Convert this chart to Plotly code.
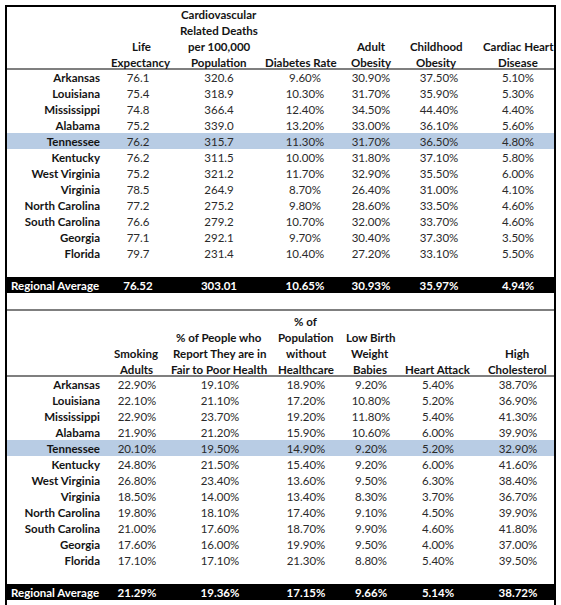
import plotly.graph_objects as go

# ---------------- data ----------------
states = ["Arkansas", "Louisiana", "Mississippi", "Alabama", "Tennessee", "Kentucky",
          "West Virginia", "Virginia", "North Carolina", "South Carolina", "Georgia", "Florida"]
highlight_state = "Tennessee"
avg_label = "Regional Average"

top_headers = ["Life<br>Expectancy",
               "Cardiovascular<br>Related Deaths<br>per 100,000<br>Population",
               "Diabetes Rate", "Adult<br>Obesity", "Childhood<br>Obesity",
               "Cardiac Heart<br>Disease"]
life_expectancy = [76.1, 75.4, 74.8, 75.2, 76.2, 76.2, 75.2, 78.5, 77.2, 76.6, 77.1, 79.7]
cardio_deaths = [320.6, 318.9, 366.4, 339.0, 315.7, 311.5, 321.2, 264.9, 275.2, 279.2, 292.1, 231.4]
diabetes_rate = [9.60, 10.30, 12.40, 13.20, 11.30, 10.00, 11.70, 8.70, 9.80, 10.70, 9.70, 10.40]
adult_obesity = [30.90, 31.70, 34.50, 33.00, 31.70, 31.80, 32.90, 26.40, 28.60, 32.00, 30.40, 27.20]
child_obesity = [37.50, 35.90, 44.40, 36.10, 36.50, 37.10, 35.50, 31.00, 33.50, 33.70, 37.30, 33.10]
cardiac_disease = [5.10, 5.30, 4.40, 5.60, 4.80, 5.80, 6.00, 4.10, 4.60, 4.60, 3.50, 5.50]
top_averages = [76.52, 303.01, 10.65, 30.93, 35.97, 4.94]

bottom_headers = ["Smoking<br>Adults",
                  "% of People who<br>Report They are in<br>Fair to Poor Health",
                  "% of<br>Population<br>without<br>Healthcare",
                  "Low Birth<br>Weight<br>Babies", "Heart Attack", "High<br>Cholesterol"]
smoking_adults = [22.90, 22.10, 22.90, 21.90, 20.10, 24.80, 26.80, 18.50, 19.80, 21.00, 17.60, 17.10]
poor_health = [19.10, 21.10, 23.70, 21.20, 19.50, 21.50, 23.40, 14.00, 18.10, 17.60, 16.00, 17.10]
no_healthcare = [18.90, 17.20, 19.20, 15.90, 14.90, 15.40, 13.60, 13.40, 17.40, 18.70, 19.90, 21.30]
low_birth_weight = [9.20, 10.80, 11.80, 10.60, 9.20, 9.20, 9.50, 8.30, 9.10, 9.90, 9.50, 8.80]
heart_attack = [5.40, 5.20, 5.40, 6.00, 5.20, 6.00, 6.30, 3.70, 4.50, 4.60, 4.00, 5.40]
high_cholesterol = [38.70, 36.90, 41.30, 39.90, 32.90, 41.60, 38.40, 36.70, 39.90, 41.80, 37.00, 39.50]
bottom_averages = [21.29, 19.36, 17.15, 9.66, 5.14, 38.72]

# ---------------- layout / style ----------------
W, H = 561, 605
FONT = "Lato, 'Open Sans', sans-serif"
FS = 11.5
BOLD_C = "#141414"
VAL_C = "#2a2a2a"
BAND_C = "#b8cce4"
LEFT, RIGHT = 5, 556
ROW_H = 16
TEXT_DY = 2          # optical correction for text baseline inside a row
STATE_X = 100
AVG_X = 11

tables = [
    dict(top=5, head_bottom=69, headers=top_headers,
         cols=[life_expectancy, cardio_deaths, diabetes_rate, adult_obesity, child_obesity, cardiac_disease],
         avgs=top_averages,
         fmt=["{:.1f}", "{:.1f}", "{:.2f}%", "{:.2f}%", "{:.2f}%", "{:.2f}%"],
         avg_fmt=["{:.2f}", "{:.2f}", "{:.2f}%", "{:.2f}%", "{:.2f}%", "{:.2f}%"],
         head_x=[141, 219, 301, 371, 436, 518],
         val_x=[138, 219, 305, 371, 439, 518]),
    dict(top=310, head_bottom=376, headers=bottom_headers,
         cols=[smoking_adults, poor_health, no_healthcare, low_birth_weight, heart_attack, high_cholesterol],
         avgs=bottom_averages,
         fmt=["{:.2f}%"] * 6,
         avg_fmt=["{:.2f}%"] * 6,
         head_x=[136, 219, 306, 370, 438, 517],
         val_x=[137, 220, 306, 371, 438, 518]),
]

fig = go.Figure()
shapes = []
annotations = []

for t in tables:
    hb = t["head_bottom"]
    n = len(states)
    row_y = [hb + ROW_H * i + ROW_H / 2 + TEXT_DY for i in range(n)]
    avg_row = n + 1
    avg_y = hb + ROW_H * avg_row + ROW_H / 2 + TEXT_DY

    # highlight band
    hi = states.index(highlight_state)
    shapes.append(dict(type="rect", xref="x", yref="y", x0=LEFT, x1=RIGHT,
                       y0=hb + ROW_H * hi, y1=hb + ROW_H * (hi + 1),
                       fillcolor=BAND_C, line_width=0, layer="below"))
    # average band
    shapes.append(dict(type="rect", xref="x", yref="y", x0=LEFT, x1=RIGHT,
                       y0=hb + ROW_H * avg_row, y1=hb + ROW_H * (avg_row + 1),
                       fillcolor="black", line_width=0, layer="below"))
    # header underline
    shapes.append(dict(type="line", xref="x", yref="y", x0=LEFT, x1=RIGHT,
                       y0=hb, y1=hb, line=dict(color="black", width=1.2)))

    # state names (right aligned)
    fig.add_trace(go.Scatter(x=[STATE_X] * n, y=row_y, mode="text",
                             text=[f"<b>{s}</b>" for s in states],
                             textposition="middle left",
                             textfont=dict(family=FONT, size=FS, color=BOLD_C),
                             hoverinfo="skip", showlegend=False, cliponaxis=False))
    # average label
    fig.add_trace(go.Scatter(x=[AVG_X], y=[avg_y], mode="text",
                             text=[f"<b>{avg_label}</b>"], textposition="middle right",
                             textfont=dict(family=FONT, size=FS, color="white"),
                             hoverinfo="skip", showlegend=False, cliponaxis=False))

    for j, col in enumerate(t["cols"]):
        fig.add_trace(go.Scatter(x=[t["val_x"][j]] * n, y=row_y, mode="text",
                                 text=[t["fmt"][j].format(v) for v in col],
                                 textposition="middle center",
                                 textfont=dict(family=FONT, size=FS, color=VAL_C),
                                 hoverinfo="skip", showlegend=False, cliponaxis=False))
        fig.add_trace(go.Scatter(x=[t["val_x"][j]], y=[avg_y], mode="text",
                                 text=["<b>" + t["avg_fmt"][j].format(t["avgs"][j]) + "</b>"],
                                 textposition="middle center",
                                 textfont=dict(family=FONT, size=FS, color="white"),
                                 hoverinfo="skip", showlegend=False, cliponaxis=False))
        # header lines, bottom aligned
        lines = t["headers"][j].split("<br>")
        for k, line in enumerate(reversed(lines)):
            annotations.append(dict(xref="x", yref="y", x=t["head_x"][j],
                                    y=hb - 6.5 - ROW_H * k, text=f"<b>{line}</b>",
                                    showarrow=False, xanchor="center", yanchor="middle",
                                    font=dict(family=FONT, size=FS, color=BOLD_C)))

# outer frame and separator
shapes.append(dict(type="line", xref="x", yref="y", x0=LEFT, x1=RIGHT, y0=6, y1=6,
                   line=dict(color="black", width=2)))
shapes.append(dict(type="line", xref="x", yref="y", x0=6, x1=6, y0=5, y1=H,
                   line=dict(color="black", width=2)))
shapes.append(dict(type="line", xref="x", yref="y", x0=555, x1=555, y0=5, y1=H,
                   line=dict(color="black", width=2)))
shapes.append(dict(type="line", xref="x", yref="y", x0=LEFT, x1=RIGHT, y0=310, y1=310,
                   line=dict(color="black", width=1.2)))

fig.update_layout(
    width=W, height=H, margin=dict(l=0, r=0, t=0, b=0),
    paper_bgcolor="white", plot_bgcolor="white",
    xaxis=dict(range=[0, W], visible=False, fixedrange=True),
    yaxis=dict(range=[H, 0], visible=False, fixedrange=True),
    shapes=shapes, annotations=annotations, showlegend=False,
)

fig.write_html("out.html", config={"displayModeBar": False},
               post_script="document.body.style.margin='0';document.body.style.overflow='hidden';")
